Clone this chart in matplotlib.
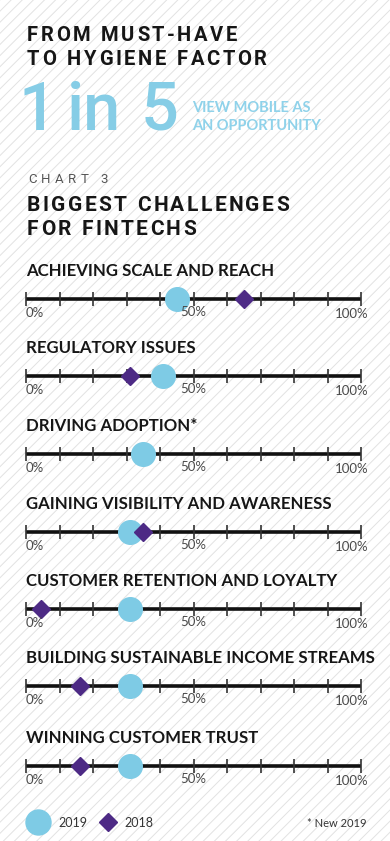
import matplotlib
matplotlib.use("Agg")
import matplotlib.pyplot as plt
from matplotlib.patches import Rectangle

# ---------------- data ----------------
challenges = [
    "ACHIEVING SCALE AND REACH",
    "REGULATORY ISSUES",
    "DRIVING ADOPTION*",
    "GAINING VISIBILITY AND AWARENESS",
    "CUSTOMER RETENTION AND LOYALTY",
    "BUILDING SUSTAINABLE INCOME STREAMS",
    "WINNING CUSTOMER TRUST",
]
values_2019 = [45, 41, 35, 31, 31, 31, 31]
values_2018 = [65, 31, None, 35, 4.5, 16, 16]
tick_values = [0, 10, 20, 30, 40, 50, 60, 70, 80, 90, 100]
tick_labels = ["0%", "50%", "100%"]
series_names = ["2019", "2018"]

# ---------------- style ----------------
W, H, DPI = 390, 841, 100
C2019 = "#7ecbe5"
C2018 = "#4d2a85"
BLUE_TXT = "#86cde6"
DARK = "#161616"
GRAY = "#4a4a4a"

fig = plt.figure(figsize=(W / DPI, H / DPI), dpi=DPI)
fig.patch.set_facecolor("white")

def fx(x):
    return x / W

def fy(y):
    return 1 - y / H

# background with diagonal stripes
bg = fig.add_axes([0, 0, 1, 1], zorder=-10)
bg.set_xlim(0, W)
bg.set_ylim(H, 0)
bg.axis("off")
plt.rcParams["hatch.linewidth"] = 0.7
bg.add_patch(Rectangle((0, 0), W, H, facecolor="white", edgecolor="#e2e2e2",
                       hatch="///", linewidth=0))

renderer = fig.canvas.get_renderer()

def tracked(x0, x1, y, s, size, color, weight="bold", family="Roboto"):
    widths = []
    for ch in s:
        if ch == " ":
            widths.append(None)
        else:
            t = fig.text(0, 0, ch, fontsize=size, fontweight=weight, family=family)
            widths.append(t.get_window_extent(renderer).width)
            t.remove()
    space_w = 0.28 * size * DPI / 72
    total = sum(w if w is not None else space_w for w in widths)
    track = (x1 - x0 - total) / (len(s) - 1)
    x = x0
    for ch, w in zip(s, widths):
        if ch != " ":
            fig.text(fx(x), fy(y), ch, fontsize=size, fontweight=weight,
                     family=family, color=color, ha="left", va="baseline")
        x += (w if w is not None else space_w) + track

# ---------------- header ----------------
tracked(27, 237, 41, "FROM MUST-HAVE", 14.5, DARK)
tracked(27, 267, 65, "TO HYGIENE FACTOR", 14.5, DARK)

big_kw = dict(fontsize=48, color=BLUE_TXT, family="Roboto", fontweight="medium",
              va="baseline")
fig.text(fx(37), fy(130), "1", ha="center", **big_kw)
fig.text(fx(94), fy(130), "in", ha="center", **big_kw)
fig.text(fx(159.5), fy(130), "5", ha="center", **big_kw)
sub_kw = dict(fontsize=10.5, color="#8fd2ea", family="Lato", fontweight="bold",
              ha="left", va="baseline")
fig.text(fx(192), fy(112), "VIEW MOBILE AS", **sub_kw)
fig.text(fx(192), fy(130), "AN OPPORTUNITY", **sub_kw)

tracked(28, 108, 183, "CHART 3", 9.5, "#555555", weight="normal")
tracked(27, 289, 211, "BIGGEST CHALLENGES", 15, DARK)
tracked(27, 196, 235, "FOR FINTECHS", 15, DARK)

# ---------------- rows ----------------
line_y = [299, 376, 454, 532, 609, 686, 766]
x_left, x_right = 26, 361
row_h = 30

for i, name in enumerate(challenges):
    y = line_y[i]
    fig.text(fx(26), fy(y - 23), name, fontsize=12.05, fontweight="bold",
             family="Lato", color=DARK, ha="left", va="baseline")
    ax = fig.add_axes([fx(x_left), fy(y + row_h / 2), (x_right - x_left) / W, row_h / H])
    ax.set_xlim(tick_values[0], tick_values[-1])
    ax.set_ylim(-1, 1)
    ax.axis("off")
    ax.hlines(0, tick_values[0], tick_values[-1], color="#111111", lw=2.6, zorder=1,
              clip_on=False)
    ax.vlines(tick_values, -0.45, 0.45, color="#333333", lw=1.2, zorder=1, clip_on=False)
    ax.plot([values_2019[i]], [0], marker="o", ms=17, color=C2019, ls="none",
            zorder=3, clip_on=False)
    if values_2018[i] is not None:
        ax.plot([values_2018[i]], [0], marker="D", ms=9.5, color=C2018, ls="none",
                zorder=4, clip_on=False)
    lab_kw = dict(fontsize=9.5, family="Lato", color=GRAY, va="baseline")
    fig.text(fx(26), fy(y + 18), tick_labels[0], ha="left", **lab_kw)
    fig.text(fx(193.5), fy(y + 17), tick_labels[1], ha="center", **lab_kw)
    fig.text(fx(368), fy(y + 19), tick_labels[2], ha="right", **lab_kw)

# ---------------- legend ----------------
bg.plot([38], [822], marker="o", ms=18, color=C2019, ls="none")
bg.text(58, 827, series_names[0], fontsize=9, family="Lato", color="#333333",
        ha="left", va="baseline")
bg.plot([108], [822], marker="D", ms=9, color=C2018, ls="none")
bg.text(124, 827, series_names[1], fontsize=9, family="Lato", color="#333333",
        ha="left", va="baseline")
bg.text(367, 827, "* New 2019", fontsize=8, family="Lato", color="#333333",
        ha="right", va="baseline")

fig.savefig("out.png", dpi=DPI)
